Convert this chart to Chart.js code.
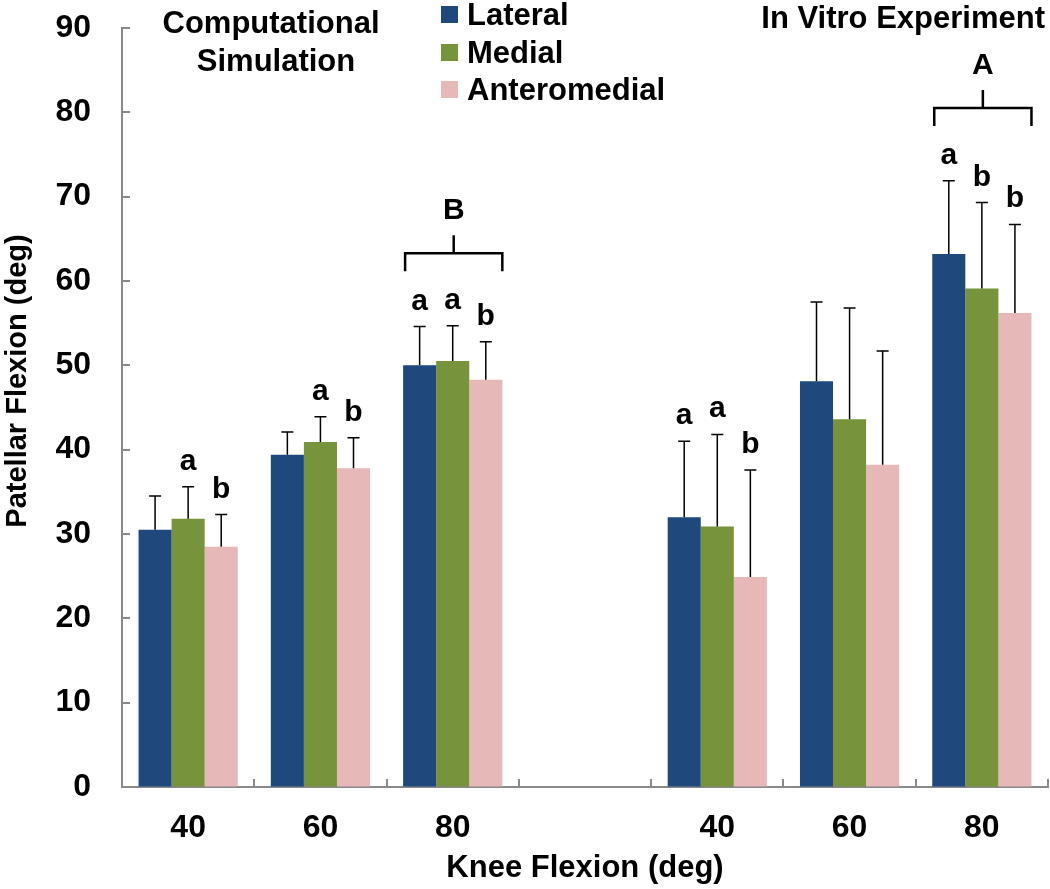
<!DOCTYPE html>
<html>
<head>
<meta charset="utf-8">
<script src="https://cdn.jsdelivr.net/npm/chart.js@4"></script>
<style>
  html, body { margin: 0; padding: 0; background: #fff; }
  #wrap { width: 1050px; height: 889px; }
</style>
</head>
<body>
<div id="wrap"><canvas id="flexionChart"></canvas></div>
<script>
// knee flexion groups: simulation (40/60/80), gap, in vitro (40/60/80)
const categories = ['40', '60', '80', '', '40', '60', '80'];
const seriesNames = ['Lateral', 'Medial', 'Anteromedial'];
const seriesColors = ['#1F497D', '#77933C', '#E6B9B8'];

const lateral = [30.5, 39.4, 50.0, null, 32.0, 48.1, 63.2];
const medial = [31.8, 40.9, 50.5, null, 30.9, 43.6, 59.1];
const anteromedial = [28.5, 37.8, 48.3, null, 24.9, 38.2, 56.2];

const lateralSD = [4.0, 2.7, 4.6, null, 9.0, 9.4, 8.7];
const medialSD = [3.8, 3.0, 4.2, null, 10.9, 13.2, 10.2];
const anteromedialSD = [3.8, 3.6, 4.5, null, 12.7, 13.5, 10.5];

const lateralLetters = ['', '', 'a', '', 'a', '', 'a'];
const medialLetters = ['a', 'a', 'a', '', 'a', '', 'b'];
const anteromedialLetters = ['b', 'b', 'b', '', 'b', '', 'b'];

const bracketLevels = [null, null, 63.3, null, null, null, 80.5];
const bracketLabels = ['', '', 'B', '', '', '', 'A'];

const yTicks = [0, 10, 20, 30, 40, 50, 60, 70, 80, 90];

const FONT = '"Liberation Sans", Arial, Helvetica, sans-serif';
const AXIS_GREY = '#898989';

const values = [lateral, medial, anteromedial];
const sds = [lateralSD, medialSD, anteromedialSD];
const letters = [lateralLetters, medialLetters, anteromedialLetters];

const annotations = {
  id: 'annotations',
  afterDatasetsDraw(chart) {
    const ctx = chart.ctx;
    const xs = chart.scales.x;
    const ys = chart.scales.y;
    const area = chart.chartArea;
    ctx.save();

    // tick marks point inward
    ctx.strokeStyle = AXIS_GREY;
    ctx.lineWidth = 2;
    yTicks.forEach(function (v) {
      const py = Math.round(ys.getPixelForValue(v));
      ctx.beginPath();
      ctx.moveTo(area.left, py);
      ctx.lineTo(area.left + 8, py);
      ctx.stroke();
    });
    for (let i = 1; i <= categories.length; i++) {
      const px = Math.round(xs.getPixelForValue(i - 0.5));
      ctx.beginPath();
      ctx.moveTo(px, area.bottom);
      ctx.lineTo(px, area.bottom - 8);
      ctx.stroke();
    }

    // error bars and letters
    ctx.strokeStyle = '#000';
    ctx.fillStyle = '#000';
    ctx.lineWidth = 1.5;
    ctx.font = 'bold 30px ' + FONT;
    ctx.textAlign = 'center';
    ctx.textBaseline = 'alphabetic';
    values.forEach(function (vals, d) {
      const meta = chart.getDatasetMeta(d);
      vals.forEach(function (v, i) {
        if (v === null) return;
        const bar = meta.data[i];
        const top = ys.getPixelForValue(v + sds[d][i]);
        ctx.beginPath();
        ctx.moveTo(bar.x, bar.y);
        ctx.lineTo(bar.x, top);
        ctx.moveTo(bar.x - 6, top);
        ctx.lineTo(bar.x + 6, top);
        ctx.stroke();
        if (letters[d][i]) ctx.fillText(letters[d][i], bar.x, top - 17);
      });
    });

    // group brackets
    ctx.lineWidth = 2.5;
    ctx.font = 'bold 30px ' + FONT;
    bracketLevels.forEach(function (lvl, i) {
      if (lvl === null) return;
      const first = chart.getDatasetMeta(0).data[i];
      const last = chart.getDatasetMeta(2).data[i];
      const left = first.x - first.width / 2 + 2;
      const right = last.x + last.width / 2;
      const mid = (left + right) / 2;
      const py = ys.getPixelForValue(lvl);
      ctx.beginPath();
      ctx.moveTo(left, py + 18);
      ctx.lineTo(left, py);
      ctx.lineTo(right, py);
      ctx.lineTo(right, py + 18);
      ctx.moveTo(mid, py);
      ctx.lineTo(mid, py - 18);
      ctx.stroke();
      ctx.fillText(bracketLabels[i], mid, py - 34);
    });
    ctx.restore();
  },
  afterDraw(chart) {
    const ctx = chart.ctx;
    ctx.save();
    ctx.fillStyle = '#000';
    ctx.textBaseline = 'alphabetic';
    ctx.font = 'bold 31px ' + FONT;

    ctx.textAlign = 'center';
    ctx.fillText('Computational', 271, 33);
    ctx.fillText('Simulation', 276, 71);
    ctx.textAlign = 'right';
    ctx.fillText('In Vitro Experiment', 1045, 28);

    // legend
    ctx.textAlign = 'left';
    const baselines = [25, 63, 100];
    seriesNames.forEach(function (name, d) {
      ctx.fillStyle = seriesColors[d];
      ctx.fillRect(441, baselines[d] - 19, 17, 17);
      ctx.fillStyle = '#000';
      ctx.fillText(name, 467, baselines[d]);
    });

    // y axis title
    ctx.translate(18, 381);
    ctx.rotate(-Math.PI / 2);
    ctx.textAlign = 'center';
    ctx.textBaseline = 'middle';
    ctx.font = 'bold 29px ' + FONT;
    ctx.fillText('Patellar Flexion (deg)', 0, 0);
    ctx.restore();
  }
};

const ctx = document.getElementById('flexionChart').getContext('2d');

const data = {
  labels: categories,
  datasets: seriesNames.map(function (name, d) {
    return {
      label: name,
      data: values[d],
      backgroundColor: seriesColors[d],
      borderWidth: 0,
      categoryPercentage: 0.75,
      barPercentage: 1.0
    };
  })
};

const config = {
  type: 'bar',
  data: data,
  options: {
    responsive: true,
    maintainAspectRatio: false,
    animation: false,
    layout: {
      padding: { top: 28, right: 2, bottom: 0, left: 0 }
    },
    plugins: {
      legend: { display: false },
      tooltip: { enabled: false }
    },
    scales: {
      x: {
        grid: { display: false, drawTicks: false },
        border: { display: true, color: AXIS_GREY, width: 2 },
        ticks: {
          color: '#000',
          font: { family: FONT, size: 32, weight: 'bold' },
          padding: 22,
          autoSkip: false,
          maxRotation: 0
        },
        title: {
          display: true,
          text: 'Knee Flexion (deg)',
          color: '#000',
          font: { family: FONT, size: 31, weight: 'bold' },
          padding: { top: 0, bottom: 2 }
        },
        afterFit: function (scale) { scale.height = 102; }
      },
      y: {
        min: 0,
        max: 90,
        // invisible tick length keeps labels off the axis without extra top padding
        grid: { display: true, drawOnChartArea: false, drawTicks: true, tickLength: 31, color: 'rgba(0,0,0,0)' },
        border: { display: true, color: AXIS_GREY, width: 2 },
        ticks: {
          stepSize: 10,
          color: '#000',
          font: { family: FONT, size: 32, weight: 'bold' },
          padding: 0
        },
        afterFit: function (scale) { scale.width = 122; }
      }
    }
  },
  plugins: [annotations]
};

const flexionChart = new Chart(ctx, config);
</script>
</body>
</html>
